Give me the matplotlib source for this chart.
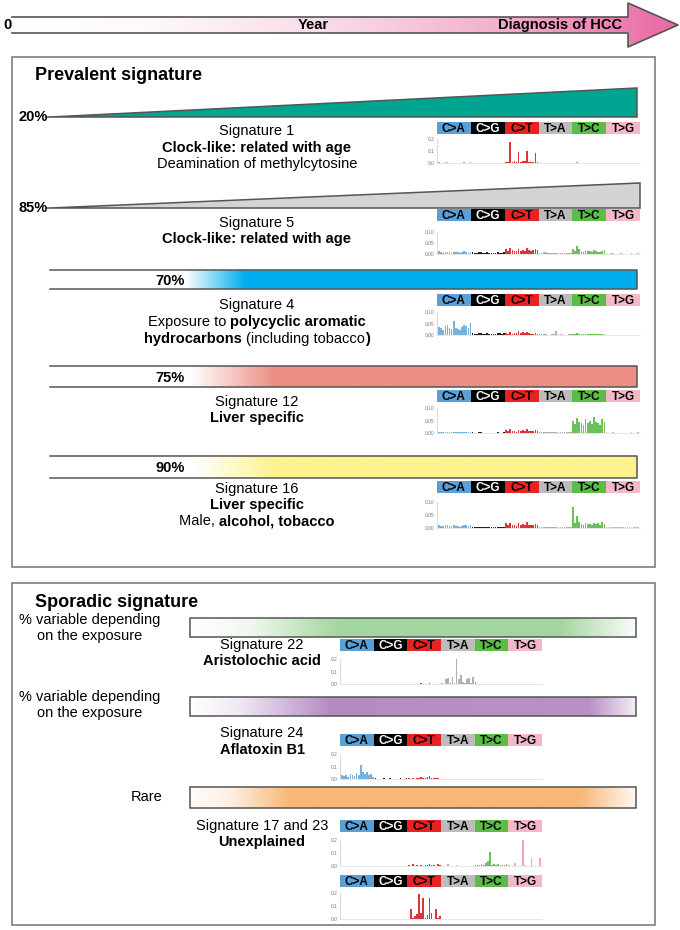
import numpy as np
import matplotlib.pyplot as plt
from matplotlib.patches import Polygon, Rectangle
from matplotlib.colors import to_rgb

plt.rcParams['font.family'] = ['Liberation Sans', 'DejaVu Sans']

W, H = 680, 930

# mutation classes of the 96-channel spectra (16 trinucleotide contexts each)
classes = ['C>A', 'C>G', 'C>T', 'T>A', 'T>C', 'T>G']
class_colors = ['#5a9fd6', '#000000', '#e82222', '#bcbcbc', '#5bbd45', '#f4b8c8']
bar_colors = ['#7ab0dc', '#222222', '#d9363a', '#b0b0b0', '#6cc05a', '#f0a8bc']

# --- spectra (rows = C>A, C>G, C>T, T>A, T>C, T>G)
sig1 = [0.006, 0.004, 0.002, 0.005, 0.006, 0.004, 0.002, 0.004, 0.003, 0.004, 0.002, 0.003, 0.008, 0.004, 0.002, 0.005,
        0.002, 0.001, 0.001, 0.002, 0.002, 0.002, 0.001, 0.002, 0.001, 0.001, 0.001, 0.001, 0.002, 0.002, 0.001, 0.002,
        0.012, 0.010, 0.175, 0.012, 0.014, 0.012, 0.095, 0.010, 0.016, 0.014, 0.100, 0.012, 0.010, 0.012, 0.080, 0.012,
        0.001, 0.001, 0.001, 0.001, 0.001, 0.001, 0.001, 0.002, 0.001, 0.001, 0.001, 0.001, 0.001, 0.001, 0.001, 0.001,
        0.004, 0.002, 0.005, 0.003, 0.002, 0.002, 0.003, 0.002, 0.003, 0.002, 0.004, 0.002, 0.002, 0.002, 0.003, 0.002,
        0.001, 0.001, 0.001, 0.001, 0.001, 0.001, 0.001, 0.001, 0.001, 0.001, 0.001, 0.001, 0.001, 0.001, 0.001, 0.001]

sig5 = [0.012, 0.008, 0.006, 0.010, 0.011, 0.009, 0.005, 0.010, 0.008, 0.007, 0.005, 0.008, 0.012, 0.010, 0.006, 0.011,
        0.008, 0.006, 0.004, 0.008, 0.007, 0.006, 0.004, 0.008, 0.006, 0.005, 0.003, 0.006, 0.008, 0.006, 0.004, 0.008,
        0.022, 0.014, 0.028, 0.016, 0.014, 0.012, 0.024, 0.014, 0.018, 0.014, 0.026, 0.016, 0.014, 0.016, 0.022, 0.016,
        0.006, 0.005, 0.007, 0.008, 0.004, 0.004, 0.005, 0.006, 0.004, 0.003, 0.005, 0.005, 0.004, 0.004, 0.005, 0.006,
        0.024, 0.012, 0.038, 0.022, 0.010, 0.009, 0.014, 0.012, 0.014, 0.010, 0.020, 0.012, 0.010, 0.009, 0.014, 0.018,
        0.004, 0.002, 0.003, 0.004, 0.002, 0.002, 0.002, 0.003, 0.002, 0.002, 0.002, 0.002, 0.003, 0.002, 0.002, 0.003]

sig4 = [0.035, 0.030, 0.020, 0.040, 0.045, 0.030, 0.025, 0.060, 0.030, 0.025, 0.020, 0.035, 0.045, 0.040, 0.030, 0.050,
        0.010, 0.006, 0.004, 0.008, 0.009, 0.006, 0.003, 0.008, 0.006, 0.005, 0.003, 0.006, 0.010, 0.007, 0.004, 0.008,
        0.008, 0.006, 0.012, 0.006, 0.010, 0.008, 0.016, 0.010, 0.012, 0.008, 0.014, 0.008, 0.006, 0.006, 0.010, 0.006,
        0.004, 0.003, 0.004, 0.003, 0.002, 0.002, 0.003, 0.004, 0.018, 0.003, 0.004, 0.003, 0.002, 0.002, 0.003, 0.004,
        0.006, 0.004, 0.008, 0.005, 0.004, 0.003, 0.005, 0.004, 0.004, 0.003, 0.006, 0.005, 0.003, 0.003, 0.004, 0.003,
        0.002, 0.001, 0.001, 0.002, 0.001, 0.001, 0.001, 0.002, 0.001, 0.001, 0.001, 0.001, 0.002, 0.001, 0.001, 0.002]

sig12 = [0.004, 0.003, 0.002, 0.004, 0.003, 0.003, 0.002, 0.003, 0.003, 0.002, 0.002, 0.003, 0.004, 0.003, 0.002, 0.004,
         0.002, 0.001, 0.001, 0.002, 0.002, 0.001, 0.001, 0.001, 0.001, 0.001, 0.001, 0.001, 0.002, 0.001, 0.001, 0.002,
         0.010, 0.006, 0.016, 0.008, 0.006, 0.005, 0.012, 0.006, 0.010, 0.006, 0.014, 0.008, 0.006, 0.006, 0.010, 0.008,
         0.003, 0.002, 0.003, 0.003, 0.002, 0.002, 0.002, 0.003, 0.002, 0.002, 0.002, 0.002, 0.002, 0.002, 0.002, 0.003,
         0.050, 0.035, 0.060, 0.045, 0.040, 0.030, 0.055, 0.040, 0.048, 0.035, 0.065, 0.045, 0.040, 0.030, 0.055, 0.042,
         0.002, 0.001, 0.001, 0.002, 0.001, 0.001, 0.001, 0.001, 0.001, 0.001, 0.001, 0.001, 0.002, 0.001, 0.001, 0.002]

sig16 = [0.012, 0.008, 0.006, 0.010, 0.011, 0.008, 0.006, 0.012, 0.008, 0.007, 0.005, 0.008, 0.012, 0.010, 0.006, 0.012,
         0.004, 0.003, 0.002, 0.004, 0.003, 0.003, 0.002, 0.004, 0.003, 0.002, 0.002, 0.003, 0.004, 0.003, 0.002, 0.004,
         0.018, 0.012, 0.020, 0.010, 0.012, 0.008, 0.018, 0.010, 0.016, 0.010, 0.022, 0.012, 0.010, 0.010, 0.016, 0.010,
         0.005, 0.003, 0.004, 0.004, 0.003, 0.002, 0.003, 0.004, 0.003, 0.002, 0.003, 0.003, 0.002, 0.002, 0.003, 0.004,
         0.082, 0.020, 0.045, 0.025, 0.015, 0.012, 0.018, 0.014, 0.016, 0.012, 0.020, 0.015, 0.018, 0.012, 0.022, 0.016,
         0.004, 0.002, 0.003, 0.003, 0.002, 0.002, 0.002, 0.003, 0.002, 0.002, 0.002, 0.002, 0.003, 0.002, 0.002, 0.004]

sig22 = [0.002, 0.001, 0.001, 0.002, 0.002, 0.001, 0.001, 0.002, 0.001, 0.001, 0.001, 0.001, 0.002, 0.001, 0.001, 0.002,
         0.001, 0.001, 0.001, 0.001, 0.001, 0.001, 0.001, 0.001, 0.001, 0.001, 0.001, 0.001, 0.001, 0.001, 0.001, 0.001,
         0.003, 0.002, 0.004, 0.002, 0.003, 0.002, 0.008, 0.004, 0.004, 0.002, 0.005, 0.003, 0.002, 0.002, 0.004, 0.002,
         0.008, 0.000, 0.040, 0.050, 0.020, 0.060, 0.010, 0.200, 0.040, 0.070, 0.015, 0.010, 0.040, 0.045, 0.005, 0.055,
         0.020, 0.003, 0.004, 0.003, 0.002, 0.002, 0.003, 0.002, 0.003, 0.002, 0.004, 0.002, 0.002, 0.002, 0.003, 0.002,
         0.001, 0.001, 0.001, 0.001, 0.001, 0.001, 0.001, 0.001, 0.001, 0.001, 0.001, 0.001, 0.001, 0.001, 0.001, 0.001]

sig24 = [0.030, 0.025, 0.030, 0.020, 0.040, 0.030, 0.025, 0.050, 0.030, 0.110, 0.060, 0.040, 0.055, 0.030, 0.040, 0.020,
         0.006, 0.003, 0.002, 0.004, 0.006, 0.004, 0.002, 0.005, 0.004, 0.003, 0.002, 0.003, 0.006, 0.004, 0.002, 0.005,
         0.006, 0.004, 0.008, 0.004, 0.006, 0.005, 0.014, 0.006, 0.010, 0.018, 0.022, 0.012, 0.006, 0.005, 0.010, 0.004,
         0.002, 0.001, 0.002, 0.002, 0.001, 0.001, 0.001, 0.002, 0.001, 0.001, 0.001, 0.001, 0.001, 0.001, 0.001, 0.002,
         0.003, 0.002, 0.004, 0.003, 0.002, 0.002, 0.003, 0.002, 0.003, 0.002, 0.004, 0.003, 0.002, 0.002, 0.003, 0.002,
         0.001, 0.001, 0.001, 0.001, 0.001, 0.001, 0.001, 0.001, 0.001, 0.001, 0.001, 0.001, 0.001, 0.001, 0.001, 0.001]

sig17 = [0.002, 0.001, 0.001, 0.002, 0.002, 0.001, 0.001, 0.003, 0.001, 0.001, 0.001, 0.002, 0.002, 0.001, 0.001, 0.002,
         0.001, 0.001, 0.001, 0.001, 0.001, 0.001, 0.001, 0.001, 0.001, 0.001, 0.001, 0.001, 0.001, 0.001, 0.001, 0.001,
         0.004, 0.002, 0.012, 0.003, 0.004, 0.003, 0.008, 0.003, 0.006, 0.004, 0.014, 0.010, 0.004, 0.003, 0.012, 0.004,
         0.002, 0.001, 0.002, 0.016, 0.001, 0.001, 0.001, 0.004, 0.001, 0.001, 0.001, 0.002, 0.001, 0.001, 0.001, 0.003,
         0.004, 0.008, 0.004, 0.012, 0.006, 0.020, 0.040, 0.105, 0.006, 0.012, 0.006, 0.014, 0.004, 0.010, 0.004, 0.012,
         0.010, 0.002, 0.002, 0.020, 0.003, 0.002, 0.002, 0.235, 0.004, 0.002, 0.002, 0.065, 0.003, 0.002, 0.002, 0.060]

sig23 = [0.001, 0.001, 0.001, 0.001, 0.001, 0.001, 0.001, 0.001, 0.001, 0.001, 0.001, 0.001, 0.001, 0.001, 0.001, 0.001,
         0.001, 0.001, 0.001, 0.001, 0.001, 0.001, 0.001, 0.001, 0.001, 0.001, 0.001, 0.001, 0.001, 0.001, 0.001, 0.001,
         0.002, 0.080, 0.004, 0.020, 0.040, 0.190, 0.050, 0.160, 0.010, 0.030, 0.160, 0.050, 0.003, 0.080, 0.004, 0.020,
         0.001, 0.001, 0.001, 0.001, 0.001, 0.001, 0.001, 0.001, 0.001, 0.001, 0.001, 0.001, 0.001, 0.001, 0.001, 0.001,
         0.001, 0.001, 0.001, 0.001, 0.001, 0.001, 0.001, 0.001, 0.001, 0.001, 0.001, 0.001, 0.001, 0.001, 0.001, 0.001,
         0.001, 0.001, 0.001, 0.001, 0.001, 0.001, 0.001, 0.001, 0.001, 0.001, 0.001, 0.001, 0.001, 0.001, 0.001, 0.001]

prevalent_pct = ['20%', '85%', '70%', '75%', '90%']

fig = plt.figure(figsize=(6.8, 9.3), dpi=100)
ax = fig.add_axes([0, 0, 1, 1])
ax.axis('off')
EDGE = '#555555'
FS = 10.5


def gradient(x0, x1, y0, y1, color, stops, clip=None, z=1):
    xs = np.linspace(x0, x1, 500)
    a = np.interp(xs, [s[0] for s in stops], [s[1] for s in stops])
    c = np.array(to_rgb(color))
    img = (1 - a[:, None]) + a[:, None] * c[None, :]
    im = ax.imshow(img[None, :, :], extent=(x0, x1, y1, y0), aspect='auto',
                   interpolation='bilinear', zorder=z)
    if clip is not None:
        im.set_clip_path(clip)
    return im


def mixed(x, y, parts, size=FS):
    # one centred line made of normal / bold pieces (spaces kept at the end of a piece)
    r = fig.canvas.get_renderer()
    texts = [ax.text(0, y, s, fontsize=size, fontweight=w, ha='left', va='center', zorder=5)
             for s, w in parts]
    widths = [t.get_window_extent(r).width for t in texts]
    cur = x - sum(widths) / 2
    for t, wd in zip(texts, widths):
        t.set_x(cur)
        cur += wd


def header(x0, x1, y0, y1):
    w = (x1 - x0) / 6
    for i, (lab, c) in enumerate(zip(classes, class_colors)):
        ax.add_patch(Rectangle((x0 + i * w, y0), w, y1 - y0, color=c, lw=0, zorder=3))
        ax.text(x0 + (i + 0.5) * w, (y0 + y1) / 2 + 0.5, lab, color='white' if lab == 'C>G' else 'black',
                ha='center', va='center', fontsize=8.5, fontweight='bold', zorder=4)


def spectrum(x0, x1, y_top, y_bot, values, ymax, ticks, fmt):
    axm = fig.add_axes([x0 / W, 1 - y_bot / H, (x1 - x0) / W, (y_bot - y_top) / H])
    idx = np.arange(96)
    cols = [bar_colors[i // 16] for i in idx]
    axm.bar(idx, values, width=0.8, color=cols, linewidth=0)
    axm.set_xlim(-1, 96)
    axm.set_ylim(0, ymax)
    axm.set_yticks(ticks)
    axm.set_yticklabels([fmt % t for t in ticks], fontsize=3.5, color='#777777')
    axm.tick_params(axis='y', length=0, pad=2)
    axm.set_xticks([])
    for s in ['top', 'right']:
        axm.spines[s].set_visible(False)
    axm.spines['left'].set_color('#cccccc')
    axm.spines['left'].set_linewidth(0.5)
    axm.spines['bottom'].set_color('#dddddd')
    axm.spines['bottom'].set_linewidth(0.5)
    axm.patch.set_alpha(0)


# ---- timeline arrow
arrow_pts = [(12, 17), (628, 17), (628, 3), (678, 25), (628, 47), (628, 33), (12, 33)]
arrow = Polygon(arrow_pts, closed=True, facecolor='none', edgecolor='none')
ax.add_patch(arrow)
gradient(12, 678, 3, 47, '#e8609e', [(12, 0), (150, 0.04), (320, 0.22), (500, 0.5), (678, 0.95)], clip=arrow)
ax.plot([12, 628, 628, 678, 628, 628, 12], [17, 17, 3, 25, 47, 33, 33], color=EDGE, lw=1.2, zorder=3)
ax.text(8, 25, '0', fontsize=FS, fontweight='bold', ha='center', va='center')
ax.text(313, 25, 'Year', fontsize=FS, fontweight='bold', ha='center', va='center')
ax.text(560, 25, 'Diagnosis of HCC', fontsize=FS, fontweight='bold', ha='center', va='center')

# ---- boxes
ax.add_patch(Rectangle((12, 57), 643, 510, fill=False, edgecolor='#888888', lw=1.3, zorder=2))
ax.add_patch(Rectangle((12, 583), 643, 342, fill=False, edgecolor='#888888', lw=1.3, zorder=2))
ax.text(35, 76, 'Prevalent signature', fontsize=13, fontweight='bold', ha='left', va='center')
ax.text(35, 602, 'Sporadic signature', fontsize=13, fontweight='bold', ha='left', va='center')

# ---- prevalent: wedges
ax.add_patch(Polygon([(50, 117), (637, 88), (637, 117)], closed=True, facecolor='#00a591',
                     edgecolor=EDGE, lw=1.1, zorder=2))
ax.plot([46, 50], [117, 117], color=EDGE, lw=1.1)
ax.text(33, 117, prevalent_pct[0], fontsize=FS, fontweight='bold', ha='center', va='center')
ax.add_patch(Polygon([(50, 208), (640, 183), (640, 208)], closed=True, facecolor='#d3d4d5',
                     edgecolor=EDGE, lw=1.1, zorder=2))
ax.plot([46, 50], [208, 208], color=EDGE, lw=1.1)
ax.text(33, 208, prevalent_pct[1], fontsize=FS, fontweight='bold', ha='center', va='center')

# ---- prevalent: gradient bars
for (y0, y1), col, stops, pct in [((270, 289), '#00aeef', [(50, 0), (185, 0), (245, 1), (637, 1)], prevalent_pct[2]),
                                  ((366, 387), '#ec8e83', [(50, 0), (190, 0), (275, 1), (637, 1)], prevalent_pct[3]),
                                  ((456, 478), '#fdf28f', [(50, 0), (195, 0), (275, 1), (637, 1)], prevalent_pct[4])]:
    gradient(50, 637, y0, y1, col, stops)
    ax.plot([50, 637, 637, 50], [y0, y0, y1, y1], color=EDGE, lw=1.1, zorder=3)
    ax.text(170, (y0 + y1) / 2 + 1, pct, fontsize=FS, fontweight='bold', ha='center', va='center', zorder=4)

# ---- prevalent: texts
cx = 257
mixed(cx, 131, [('Signature 1', 'normal')])
mixed(cx, 148, [('Clock-like: related with age', 'bold')])
mixed(cx, 164, [('Deamination of methylcytosine', 'normal')])
mixed(cx, 223, [('Signature 5', 'normal')])
mixed(cx, 239, [('Clock-like: related with age', 'bold')])
mixed(cx, 305, [('Signature 4', 'normal')])
mixed(cx, 322, [('Exposure to ', 'normal'), ('polycyclic aromatic', 'bold')])
mixed(cx, 339, [('hydrocarbons ', 'bold'), ('(including tobacco', 'normal'), (')', 'bold')])
mixed(cx, 402, [('Signature 12', 'normal')])
mixed(cx, 418, [('Liver specific', 'bold')])
mixed(cx, 489, [('Signature 16', 'normal')])
mixed(cx, 505, [('Liver specific', 'bold')])
mixed(cx, 521, [('Male, ', 'normal'), ('alcohol, tobacco', 'bold')])

# ---- prevalent: spectra
header(437, 640, 122, 134)
spectrum(437, 640, 139, 163, sig1, 0.2, [0.0, 0.1, 0.2], '%.1f')
header(437, 640, 209, 221)
spectrum(437, 640, 232, 254, sig5, 0.10, [0.0, 0.05, 0.10], '%.2f')
header(437, 640, 294, 306)
spectrum(437, 640, 312, 335, sig4, 0.10, [0.0, 0.05, 0.10], '%.2f')
header(437, 640, 390, 402)
spectrum(437, 640, 408, 433, sig12, 0.10, [0.0, 0.05, 0.10], '%.2f')
header(437, 640, 481, 493)
spectrum(437, 640, 502, 528, sig16, 0.10, [0.0, 0.05, 0.10], '%.2f')

# ---- sporadic: gradient bars
for (y0, y1), col, stops in [((618, 637), '#9fd39a', [(190, 0), (250, 0.15), (340, 0.95), (560, 0.95), (636, 0.05)]),
                             ((697, 716), '#b58bc4', [(190, 0), (240, 0.2), (330, 1), (590, 0.95), (636, 0.15)]),
                             ((787, 808), '#f9b775', [(190, 0.05), (230, 0.2), (290, 1), (580, 1), (636, 0.1)])]:
    gradient(190, 636, y0, y1, col, stops)
    ax.add_patch(Rectangle((190, y0), 446, y1 - y0, fill=False, edgecolor=EDGE, lw=1.1, zorder=3))

mixed(90, 620, [('% variable depending', 'normal')])
mixed(90, 636, [('on the exposure', 'normal')])
mixed(90, 697, [('% variable depending', 'normal')])
mixed(90, 713, [('on the exposure', 'normal')])
ax.text(163, 797, 'Rare', fontsize=FS, ha='right', va='center')

sx = 262
mixed(sx, 645, [('Signature 22', 'normal')])
mixed(sx, 661, [('Aristolochic acid', 'bold')])
mixed(sx, 733, [('Signature 24', 'normal')])
mixed(sx, 750, [('Aflatoxin B1', 'bold')])
mixed(sx, 826, [('Signature 17 and 23', 'normal')])
mixed(sx, 842, [('Unexplained', 'bold')])

header(340, 542, 639, 651)
spectrum(340, 542, 659, 684, sig22, 0.2, [0.0, 0.1, 0.2], '%.1f')
header(340, 542, 734, 746)
spectrum(340, 542, 754, 779, sig24, 0.2, [0.0, 0.1, 0.2], '%.1f')
header(340, 542, 820, 832)
spectrum(340, 542, 840, 866, sig17, 0.2, [0.0, 0.1, 0.2], '%.1f')
header(340, 542, 875, 887)
spectrum(340, 542, 893, 919, sig23, 0.2, [0.0, 0.1, 0.2], '%.1f')

ax.set_xlim(0, W)
ax.set_ylim(H, 0)
fig.savefig('out.png', dpi=100)
